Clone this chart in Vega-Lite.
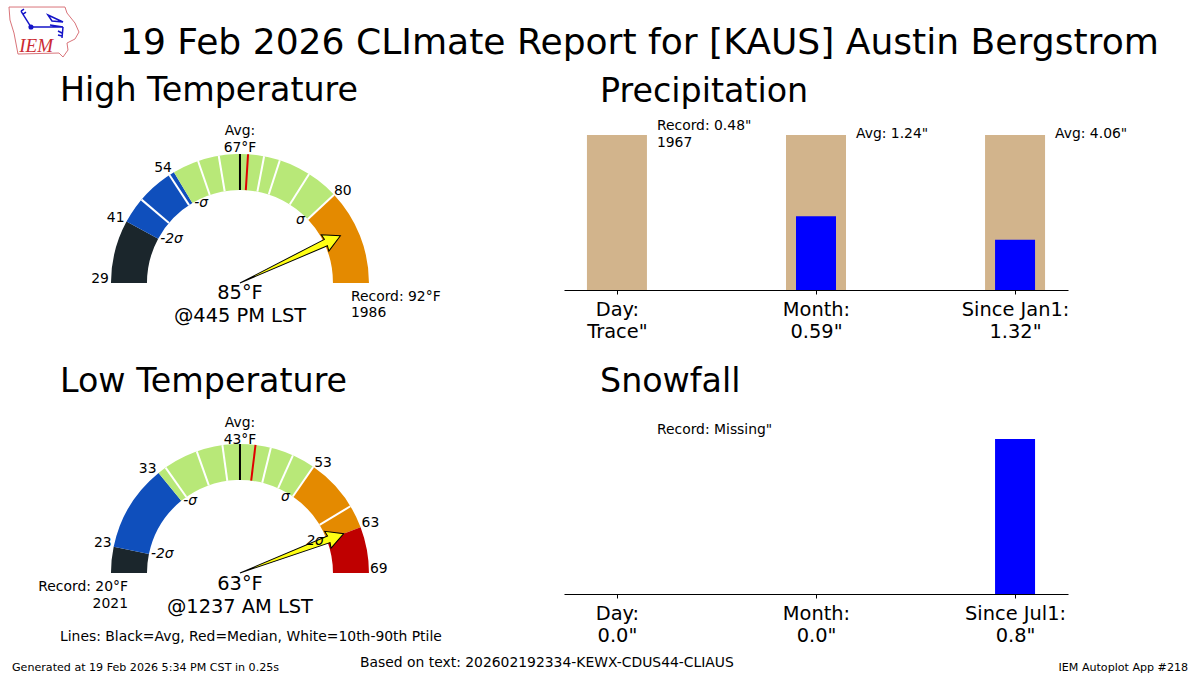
{"$schema":"https://vega.github.io/schema/vega-lite/v6.json","padding":{"top":5,"left":0,"right":0,"bottom":0},"background":"white","config":{"font":"DejaVu Sans","view":{"stroke":null},"text":{"fontSize":13.9,"baseline":"middle"},"axis":{"grid":false}},"columns":2,"bounds":"flush","spacing":{"row":105,"column":0},"resolve":{"scale":{"angle":"independent"}},"datasets":{"highBands":[{"band":"Below -2 sigma","start":29,"end":41},{"band":"-2 to -1 sigma","start":41,"end":54},{"band":"Within 1 sigma","start":54,"end":80},{"band":"1 to 2 sigma","start":80,"end":92}],"highLines":[{"kind":"Percentile","temp":46},{"kind":"Percentile","temp":53},{"kind":"Percentile","temp":59},{"kind":"Percentile","temp":63},{"kind":"Percentile","temp":70},{"kind":"Percentile","temp":72},{"kind":"Percentile","temp":76},{"kind":"Percentile","temp":80},{"kind":"Avg","temp":67},{"kind":"Median","temp":68}],"lowBands":[{"band":"Below -2 sigma","start":20,"end":23},{"band":"-2 to -1 sigma","start":23,"end":33},{"band":"Within 1 sigma","start":33,"end":53},{"band":"1 to 2 sigma","start":53,"end":63},{"band":"Above 2 sigma","start":63,"end":69}],"lowLines":[{"kind":"Percentile","temp":34},{"kind":"Percentile","temp":38},{"kind":"Percentile","temp":41},{"kind":"Percentile","temp":47},{"kind":"Percentile","temp":50},{"kind":"Percentile","temp":53},{"kind":"Percentile","temp":60},{"kind":"Avg","temp":43},{"kind":"Median","temp":45}]},"concat":[{"width":564,"height":185,"layer":[{"data":{"name":"highBands"},"mark":{"type":"arc","radius":129,"radius2":93},"encoding":{"x":{"datum":0,"type":"quantitative","scale":{"domain":[-1.86,2.5116],"nice":false,"zero":false},"axis":null},"y":{"datum":0,"type":"quantitative","scale":{"domain":[-0.0543,1.3798],"nice":false,"zero":false},"axis":null},"theta":{"field":"start","type":"quantitative","stack":false,"scale":{"domain":[29,67,92],"range":[-1.5708,0,1.5708]}},"theta2":{"field":"end"},"color":{"field":"band","type":"nominal","legend":null,"scale":{"domain":["Below -2 sigma","-2 to -1 sigma","Within 1 sigma","1 to 2 sigma","Above 2 sigma"],"range":["#1b262c","#0f4fbc","#b8e878","#e48a00","#bf0000"]}}}},{"data":{"name":"highLines"},"mark":{"type":"point","shape":"M0 -93L0 -129","size":4,"filled":false,"strokeWidth":2,"opacity":1},"encoding":{"x":{"datum":0,"type":"quantitative"},"y":{"datum":0,"type":"quantitative"},"angle":{"field":"temp","type":"quantitative","scale":{"domain":[29,67,92],"range":[-90,0,90]}},"stroke":{"field":"kind","type":"nominal","legend":null,"scale":{"domain":["Percentile","Avg","Median"],"range":["white","black","#e00000"]}}}},{"data":{"values":[{"temp":85}]},"mark":{"type":"point","shape":"M0 0L3.5 -95L9 -94L0 -111L-9 -94L-3.5 -95Z","size":4,"filled":true,"fill":"#ffff14","stroke":"black","strokeWidth":1,"opacity":1},"encoding":{"x":{"datum":0,"type":"quantitative"},"y":{"datum":0,"type":"quantitative"},"angle":{"field":"temp","type":"quantitative","scale":{"domain":[29,67,92],"range":[-90,0,90]}}}},{"data":{"values":[{"temp":29},{"temp":41},{"temp":54}]},"mark":{"type":"text","align":"right","baseline":"bottom","dx":-2,"dy":3},"encoding":{"x":{"datum":0,"type":"quantitative"},"y":{"datum":0,"type":"quantitative"},"theta":{"field":"temp","type":"quantitative","stack":false},"radius":{"value":129},"text":{"field":"temp"}}},{"data":{"values":[{"temp":80}]},"mark":{"type":"text","align":"left","baseline":"bottom","dx":0,"dy":3},"encoding":{"x":{"datum":0,"type":"quantitative"},"y":{"datum":0,"type":"quantitative"},"theta":{"field":"temp","type":"quantitative","stack":false},"radius":{"value":129},"text":{"field":"temp"}}},{"data":{"values":[{"temp":54,"label":"-σ"},{"temp":41,"label":"-2σ"}]},"mark":{"type":"text","align":"left","dx":2,"fontStyle":"italic"},"encoding":{"x":{"datum":0,"type":"quantitative"},"y":{"datum":0,"type":"quantitative"},"theta":{"field":"temp","type":"quantitative","stack":false},"radius":{"value":93},"text":{"field":"label"}}},{"data":{"values":[{"temp":80,"label":"σ"}]},"mark":{"type":"text","align":"right","dx":-3,"dy":1,"fontStyle":"italic"},"encoding":{"x":{"datum":0,"type":"quantitative"},"y":{"datum":0,"type":"quantitative"},"theta":{"field":"temp","type":"quantitative","stack":false},"radius":{"value":93},"text":{"field":"label"}}},{"data":{"values":[{"label":"Avg:\n67°F"}]},"mark":{"type":"text","align":"center","lineBreak":"\n","lineHeight":17},"encoding":{"x":{"datum":0,"type":"quantitative"},"y":{"datum":1.182,"type":"quantitative"},"text":{"field":"label"}}},{"data":{"values":[{"label":"85°F\n@445 PM LST"}]},"mark":{"type":"text","align":"center","lineBreak":"\n","lineHeight":23,"fontSize":19.4},"encoding":{"x":{"datum":0,"type":"quantitative"},"y":{"datum":-0.074,"type":"quantitative"},"text":{"field":"label"}}},{"data":{"values":[{"label":"Record: 92°F\n1986"}]},"mark":{"type":"text","align":"left","lineBreak":"\n","lineHeight":16},"encoding":{"x":{"datum":0.86,"type":"quantitative"},"y":{"datum":-0.105,"type":"quantitative"},"text":{"field":"label"}}},{"data":{"values":[{"label":"High Temperature"}]},"mark":{"type":"text","align":"left","fontSize":33.3},"encoding":{"x":{"datum":-1.395,"type":"quantitative"},"y":{"datum":1.485,"type":"quantitative"},"text":{"field":"label"}}},{"data":{"values":[{"label":"19 Feb 2026 CLImate Report for [KAUS] Austin Bergstrom"}]},"mark":{"type":"text","align":"left","fontSize":36.1},"encoding":{"x":{"datum":-0.93,"type":"quantitative"},"y":{"datum":1.86,"type":"quantitative"},"text":{"field":"label"}}},{"data":{"values":[{"part":"Iowa outline"}]},"mark":{"type":"point","shape":"M-31 -23L25 -23L27 -17L35 -7L39 2L35 9L27 13L28 20L23 27L19 23L-22 24L-26 3L-30 -10Z","size":4,"filled":false,"stroke":"#d9747a","strokeWidth":1,"opacity":1},"encoding":{"x":{"datum":-1.55,"type":"quantitative"},"y":{"datum":1.961,"type":"quantitative"}}},{"data":{"values":[{"part":"Station plot"}]},"mark":{"type":"point","shape":"M-19 -19L-9 -3L23 -3M-19 -19L-16 -21M-17 -16L-14 -18M8 -15L23 -8L12 -9ZM10 -5L23 -3M23 -3L22 8M22 3L18 1M22 6L18 5","size":4,"filled":false,"stroke":"#1414c8","strokeWidth":1.5,"opacity":1},"encoding":{"x":{"datum":-1.55,"type":"quantitative"},"y":{"datum":1.961,"type":"quantitative"}}},{"data":{"values":[{"part":"Station dot"}]},"mark":{"type":"point","shape":"circle","size":26,"filled":true,"fill":"#1414c8","opacity":1},"encoding":{"x":{"datum":-1.62,"type":"quantitative"},"y":{"datum":1.984,"type":"quantitative"}}},{"data":{"values":[{"label":"IEM"}]},"mark":{"type":"text","align":"center","font":"Liberation Serif","fontStyle":"italic","fontSize":19,"color":"#cc2b33"},"encoding":{"x":{"datum":-1.58,"type":"quantitative"},"y":{"datum":1.84,"type":"quantitative"},"text":{"field":"label"}}}]},{"width":504,"height":185,"title":{"text":"Precipitation","anchor":"start","frame":"group","dx":36,"fontSize":33.3,"fontWeight":"normal","color":"black","offset":-4.5},"data":{"values":[{"period":"Day:|Trace\"","reference":1,"observed":0},{"period":"Month:|0.59\"","reference":1,"observed":0.476},{"period":"Since Jan1:|1.32\"","reference":1,"observed":0.325}]},"encoding":{"x":{"field":"period","type":"nominal","sort":null,"title":null,"scale":{"type":"point","padding":0.266},"axis":{"labelAngle":0,"labelExpr":"split(datum.label,'|')","labelFontSize":19.4,"labelLineHeight":22,"labelColor":"black","labelPadding":6,"labelBound":false,"labelOverlap":false,"labelFlush":false,"tickColor":"black","tickSize":4,"domainColor":"black","domainWidth":1.2}}},"layer":[{"mark":{"type":"bar","width":60,"color":"#d2b48c"},"encoding":{"y":{"field":"reference","type":"quantitative","stack":false,"axis":null,"scale":{"domain":[0,1.194],"nice":false}}}},{"mark":{"type":"bar","width":40,"color":"#0000ff"},"encoding":{"y":{"field":"observed","type":"quantitative","stack":false,"axis":null}}},{"data":{"values":[{"period":"Day:|Trace\"","reference":1,"note":"Record: 0.48\"\n1967"}]},"mark":{"type":"text","align":"left","dx":40,"dy":-9,"lineBreak":"\n","lineHeight":16.5},"encoding":{"y":{"field":"reference","type":"quantitative","stack":false,"axis":null},"text":{"field":"note"}}},{"data":{"values":[{"period":"Month:|0.59\"","reference":1,"note":"Avg: 1.24\""},{"period":"Since Jan1:|1.32\"","reference":1,"note":"Avg: 4.06\""}]},"mark":{"type":"text","align":"left","dx":40,"dy":-1},"encoding":{"y":{"field":"reference","type":"quantitative","stack":false,"axis":null},"text":{"field":"note"}}}]},{"width":564,"height":199,"title":{"text":"Low Temperature","anchor":"start","frame":"group","dx":60,"fontSize":33.3,"fontWeight":"normal","color":"black","offset":-4.5},"layer":[{"data":{"name":"lowBands"},"mark":{"type":"arc","radius":129,"radius2":93},"encoding":{"x":{"datum":0,"type":"quantitative","scale":{"domain":[-1.86,2.5116],"nice":false,"zero":false},"axis":null},"y":{"datum":0,"type":"quantitative","scale":{"domain":[-0.1628,1.3798],"nice":false,"zero":false},"axis":null},"theta":{"field":"start","type":"quantitative","stack":false,"scale":{"domain":[20,43,69],"range":[-1.5708,0,1.5708]}},"theta2":{"field":"end"},"color":{"field":"band","type":"nominal","legend":null,"scale":{"domain":["Below -2 sigma","-2 to -1 sigma","Within 1 sigma","1 to 2 sigma","Above 2 sigma"],"range":["#1b262c","#0f4fbc","#b8e878","#e48a00","#bf0000"]}}}},{"data":{"name":"lowLines"},"mark":{"type":"point","shape":"M0 -93L0 -129","size":4,"filled":false,"strokeWidth":2,"opacity":1},"encoding":{"x":{"datum":0,"type":"quantitative"},"y":{"datum":0,"type":"quantitative"},"angle":{"field":"temp","type":"quantitative","scale":{"domain":[20,43,69],"range":[-90,0,90]}},"stroke":{"field":"kind","type":"nominal","legend":null,"scale":{"domain":["Percentile","Avg","Median"],"range":["white","black","#e00000"]}}}},{"data":{"values":[{"temp":63}]},"mark":{"type":"point","shape":"M0 0L3.5 -95L9 -94L0 -111L-9 -94L-3.5 -95Z","size":4,"filled":true,"fill":"#ffff14","stroke":"black","strokeWidth":1,"opacity":1},"encoding":{"x":{"datum":0,"type":"quantitative"},"y":{"datum":0,"type":"quantitative"},"angle":{"field":"temp","type":"quantitative","scale":{"domain":[20,43,69],"range":[-90,0,90]}}}},{"data":{"values":[{"temp":23},{"temp":33}]},"mark":{"type":"text","align":"right","baseline":"bottom","dx":-2,"dy":3},"encoding":{"x":{"datum":0,"type":"quantitative"},"y":{"datum":0,"type":"quantitative"},"theta":{"field":"temp","type":"quantitative","stack":false},"radius":{"value":129},"text":{"field":"temp"}}},{"data":{"values":[{"temp":53},{"temp":63},{"temp":69}]},"mark":{"type":"text","align":"left","baseline":"bottom","dx":1,"dy":3},"encoding":{"x":{"datum":0,"type":"quantitative"},"y":{"datum":0,"type":"quantitative"},"theta":{"field":"temp","type":"quantitative","stack":false},"radius":{"value":129},"text":{"field":"temp"}}},{"data":{"values":[{"temp":33,"label":"-σ"},{"temp":23,"label":"-2σ"}]},"mark":{"type":"text","align":"left","dx":2,"fontStyle":"italic"},"encoding":{"x":{"datum":0,"type":"quantitative"},"y":{"datum":0,"type":"quantitative"},"theta":{"field":"temp","type":"quantitative","stack":false},"radius":{"value":93},"text":{"field":"label"}}},{"data":{"values":[{"temp":53,"label":"σ"},{"temp":63,"label":"2σ"}]},"mark":{"type":"text","align":"right","dx":-3,"dy":1,"fontStyle":"italic"},"encoding":{"x":{"datum":0,"type":"quantitative"},"y":{"datum":0,"type":"quantitative"},"theta":{"field":"temp","type":"quantitative","stack":false},"radius":{"value":93},"text":{"field":"label"}}},{"data":{"values":[{"label":"Avg:\n43°F"}]},"mark":{"type":"text","align":"center","lineBreak":"\n","lineHeight":17},"encoding":{"x":{"datum":0,"type":"quantitative"},"y":{"datum":1.166,"type":"quantitative"},"text":{"field":"label"}}},{"data":{"values":[{"label":"63°F\n@1237 AM LST"}]},"mark":{"type":"text","align":"center","lineBreak":"\n","lineHeight":23,"fontSize":19.4},"encoding":{"x":{"datum":0,"type":"quantitative"},"y":{"datum":-0.082,"type":"quantitative"},"text":{"field":"label"}}},{"data":{"values":[{"label":"Record: 20°F\n2021"}]},"mark":{"type":"text","align":"right","lineBreak":"\n","lineHeight":17},"encoding":{"x":{"datum":-0.868,"type":"quantitative"},"y":{"datum":-0.105,"type":"quantitative"},"text":{"field":"label"}}},{"data":{"values":[{"label":"Lines: Black=Avg, Red=Median, White=10th-90th Ptile"}]},"mark":{"type":"text","align":"left"},"encoding":{"x":{"datum":-1.395,"type":"quantitative"},"y":{"datum":-0.5,"type":"quantitative"},"text":{"field":"label"}}},{"data":{"values":[{"label":"Generated at 19 Feb 2026 5:34 PM CST in 0.25s"}]},"mark":{"type":"text","align":"left","fontSize":11.1},"encoding":{"x":{"datum":-1.767,"type":"quantitative"},"y":{"datum":-0.733,"type":"quantitative"},"text":{"field":"label"}}},{"data":{"values":[{"label":"Based on text: 202602192334-KEWX-CDUS44-CLIAUS"}]},"mark":{"type":"text","align":"left"},"encoding":{"x":{"datum":0.93,"type":"quantitative"},"y":{"datum":-0.698,"type":"quantitative"},"text":{"field":"label"}}},{"data":{"values":[{"label":"IEM Autoplot App #218"}]},"mark":{"type":"text","align":"right","fontSize":11.1},"encoding":{"x":{"datum":7.349,"type":"quantitative"},"y":{"datum":-0.733,"type":"quantitative"},"text":{"field":"label"}}}]},{"width":504,"height":199,"title":{"text":"Snowfall","anchor":"start","frame":"group","dx":36,"fontSize":33.3,"fontWeight":"normal","color":"black","offset":-4.5},"data":{"values":[{"period":"Day:|0.0\"","snowfall":0},{"period":"Month:|0.0\"","snowfall":0},{"period":"Since Jul1:|0.8\"","snowfall":0.8}]},"encoding":{"x":{"field":"period","type":"nominal","sort":null,"title":null,"scale":{"type":"point","padding":0.266},"axis":{"labelAngle":0,"labelExpr":"split(datum.label,'|')","labelFontSize":19.4,"labelLineHeight":22,"labelColor":"black","labelPadding":6,"labelBound":false,"labelOverlap":false,"labelFlush":false,"tickColor":"black","tickSize":4,"domainColor":"black","domainWidth":1.2}}},"layer":[{"mark":{"type":"bar","width":40,"color":"#0000ff"},"encoding":{"y":{"field":"snowfall","type":"quantitative","stack":false,"axis":null,"scale":{"domain":[0,1.027],"nice":false}}}},{"data":{"values":[{"period":"Day:|0.0\"","note":"Record: Missing\""}]},"mark":{"type":"text","align":"left","dx":40},"encoding":{"y":{"datum":0.846,"type":"quantitative"},"text":{"field":"note"}}}]}]}
